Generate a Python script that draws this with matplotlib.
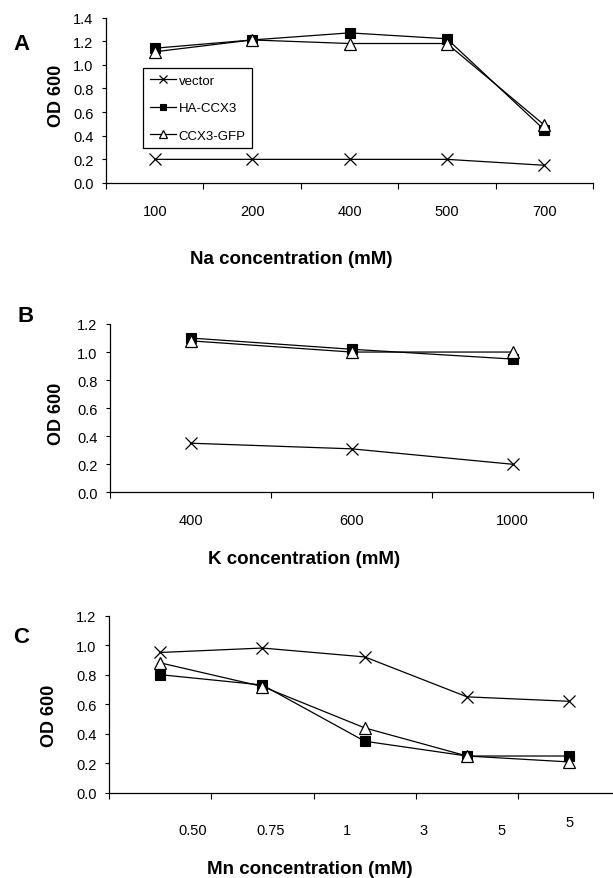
import matplotlib
matplotlib.use("Agg")
import matplotlib.pyplot as plt
from matplotlib.ticker import FixedLocator, FixedFormatter, NullFormatter
import logging
logging.getLogger('matplotlib.font_manager').setLevel(logging.ERROR)

# ---------------- data ----------------
na_labels = ['100', '200', '400', '500', '700']
na_vector = [0.20, 0.20, 0.20, 0.20, 0.15]
na_ha = [1.14, 1.21, 1.27, 1.22, 0.45]
na_gfp = [1.11, 1.21, 1.18, 1.18, 0.49]

k_labels = ['400', '600', '1000']
k_vector = [0.35, 0.31, 0.20]
k_ha = [1.10, 1.02, 0.95]
k_gfp = [1.08, 1.00, 1.00]

mn_labels = ['0.50', '0.75', '1', '3', '5', '5']
mn_vector = [0.95, 0.98, 0.92, 0.65, 0.62]
mn_ha = [0.80, 0.73, 0.35, 0.25, 0.25]
mn_gfp = [0.88, 0.72, 0.44, 0.25, 0.21]

series_names = ['vector', 'HA-CCX3', 'CCX3-GFP']

# ---------------- layout ----------------
W, H = 613, 879
NARROW = ['Liberation Sans Narrow', 'Liberation Sans', 'DejaVu Sans']
BOLD = ['Liberation Sans', 'DejaVu Sans']
plt.rcParams['font.family'] = NARROW
plt.rcParams['axes.linewidth'] = 0.9

fig = plt.figure(figsize=(W / 100, H / 100), dpi=100)
fig.patch.set_facecolor('white')


def fx(p):
    return p / W


def fy(p):
    return 1 - p / H


def make_axes(l, r, top, bot):
    return fig.add_axes([fx(l), fy(bot), (r - l) / W, (bot - top) / H])


axA = make_axes(106, 593, 18.5, 184)
axB = make_axes(110, 593, 325, 493.3)
axC = make_axes(109, 620.5, 616.5, 794)

styles = [
    dict(marker='x', ms=9, mew=0.9, color='black', mfc='black', mec='black'),
    dict(marker='s', ms=7.5, mew=0.8, color='black', mfc='black', mec='black'),
    dict(marker='^', ms=8.5, mew=0.9, color='black', mfc='white', mec='black'),
]


def draw(ax, cats, vals_list, ymax, label_pos, labels, pad):
    n = len(vals_list[0])
    xs = list(range(n))
    for vals, st, name in zip(vals_list, styles, series_names):
        ax.plot(xs, vals, lw=0.9, label=name, clip_on=False, **st)
    ax.set_xlim(-0.5, cats - 0.5)
    ax.set_ylim(0, ymax)
    ax.set_yticks([i * 0.2 for i in range(int(round(ymax / 0.2)) + 1)])
    ax.yaxis.set_major_formatter(plt.FuncFormatter(lambda v, p: f'{v:.1f}'))
    ax.xaxis.set_major_locator(FixedLocator([i - 0.5 for i in range(cats + 1)]))
    ax.xaxis.set_major_formatter(NullFormatter())
    ax.xaxis.set_minor_locator(FixedLocator(label_pos))
    ax.xaxis.set_minor_formatter(FixedFormatter(labels))
    ax.tick_params(axis='x', which='major', direction='out', length=4, width=0.8)
    ax.tick_params(axis='x', which='minor', length=0, pad=pad, labelsize=10.5)
    ax.tick_params(axis='y', direction='out', length=3, width=0.8, pad=6, labelsize=10.5)
    for s in ['top', 'right']:
        ax.spines[s].set_visible(False)


draw(axA, 5, [na_vector, na_ha, na_gfp], 1.4, list(range(5)), na_labels, 15)
draw(axB, 3, [k_vector, k_ha, k_gfp], 1.2, list(range(3)), k_labels, 15)
mn_label_pos = [0.32, 1.08, 1.83, 2.57, 3.34, 4.0]
draw(axC, 5, [mn_vector, mn_ha, mn_gfp], 1.2, mn_label_pos, mn_labels, 21.5)
axC.xaxis.get_minor_ticks()[-1].set_pad(15.5)

# legend (panel A)
leg = axA.legend(loc='upper left', bbox_to_anchor=(fx(143), fy(69)),
                 bbox_transform=fig.transFigure, borderaxespad=0,
                 fontsize=9.5, markerscale=0.62, handlelength=2.0,
                 handletextpad=0.2, labelspacing=1.15, borderpad=0.5,
                 fancybox=False, framealpha=1, edgecolor='black')
leg.get_frame().set_linewidth(0.9)

# axis labels
for ax, xl, xlc, ylc in [
    (axA, 'Na concentration (mM)', (291, 260), (56, 96)),
    (axB, 'K concentration (mM)', (304, 560), (56, 414)),
    (axC, 'Mn concentration (mM)', (310, 870), (49, 716)),
]:
    ax.set_xlabel(xl, fontsize=13.5, fontweight='bold', family=BOLD, va='center')
    ax.xaxis.set_label_coords(fx(xlc[0]), fy(xlc[1]), transform=fig.transFigure)
    ax.set_ylabel('OD 600', fontsize=13, fontweight='bold', family=BOLD, va='center')
    ax.yaxis.set_label_coords(fx(ylc[0]), fy(ylc[1]), transform=fig.transFigure)

# panel letters
for letter, (px, py) in [('A', (21, 45)), ('B', (26, 317)), ('C', (21, 638))]:
    fig.text(fx(px), fy(py), letter, fontsize=16, fontweight='bold', family=BOLD,
             ha='center', va='center')

fig.savefig('out.png', dpi=100, facecolor='white')
